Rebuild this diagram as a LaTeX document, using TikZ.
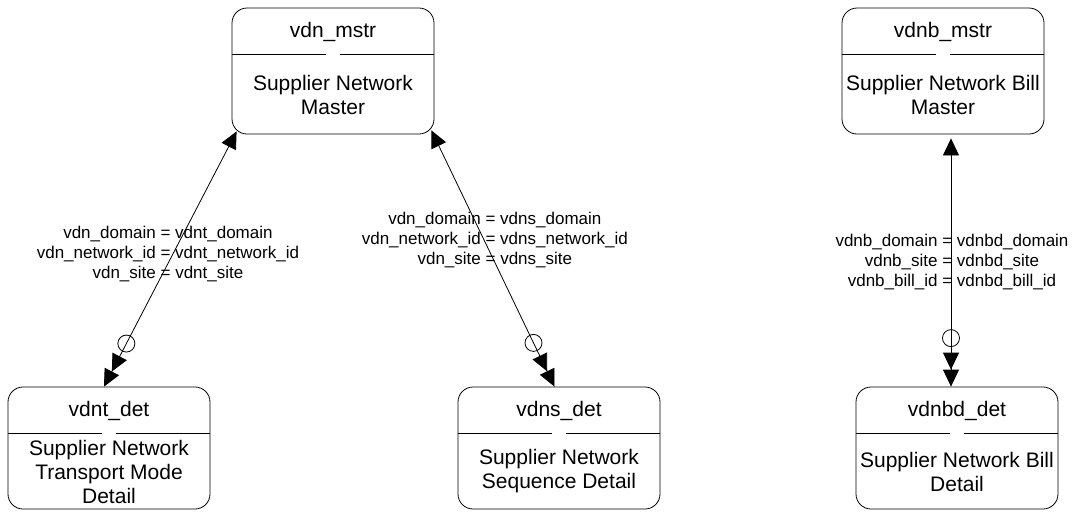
\documentclass[tikz,border=0pt]{standalone}
\usepackage{fontspec}
\setmainfont{Liberation Sans}
\usepackage{tikz}
\usetikzlibrary{arrows.meta,positioning,calc}

\begin{document}
\begin{tikzpicture}[
    x=1pt, y=-1pt,
    ent/.style={draw, rounded corners=15pt, minimum width=202pt, inner sep=0pt, line width=0.8pt},
    mst/.style={ent, minimum height=126pt},
    det/.style={ent, minimum height=122pt},
    ttl/.style={inner sep=0pt, font=\fontsize{21}{24}\selectfont},
    txt/.style={inner sep=0pt, align=center, font=\fontsize{21}{24}\selectfont},
    lbl/.style={inner sep=0pt, align=center, font=\fontsize{17}{20}\selectfont},
    fk/.style={{Triangle[length=17pt,width=16pt]}-{Triangle[length=17pt,width=16pt]Triangle[length=17pt,width=16pt]}, line width=0.8pt}
]
\useasboundingbox (0,0) rectangle (1074,512);

% master tables
\node[mst] (vdn) at (333,71) {};
\node[ttl] (vdnname) at (333,31.5) {vdn\_mstr};
\node[txt] (vdnbody) at (333,94.5) {Supplier Network\\Master};
\draw[line width=0.8pt] ([yshift=-47pt]vdn.north west) -- ([xshift=-7pt,yshift=-47pt]vdn.north);
\draw[line width=0.8pt] ([xshift=7pt,yshift=-47pt]vdn.north) -- ([yshift=-47pt]vdn.north east);

\node[mst] (vdnb) at (943,71) {};
\node[ttl] (vdnbname) at (943,31.5) {vdnb\_mstr};
\node[txt] (vdnbbody) at (943,94.5) {Supplier Network Bill\\Master};
\draw[line width=0.8pt] ([yshift=-47pt]vdnb.north west) -- ([xshift=-7pt,yshift=-47pt]vdnb.north);
\draw[line width=0.8pt] ([xshift=7pt,yshift=-47pt]vdnb.north) -- ([yshift=-47pt]vdnb.north east);

% detail tables
\node[det] (vdnt) at (109,448) {};
\node[ttl] (vdntname) at (109,410.5) {vdnt\_det};
\node[txt] (vdntbody) at (109,471.5) {Supplier Network\\Transport Mode\\Detail};
\draw[line width=0.8pt] ([yshift=-47pt]vdnt.north west) -- ([xshift=-7pt,yshift=-47pt]vdnt.north);
\draw[line width=0.8pt] ([xshift=7pt,yshift=-47pt]vdnt.north) -- ([yshift=-47pt]vdnt.north east);

\node[det] (vdns) at (559,448) {};
\node[ttl] (vdnsname) at (559,410.5) {vdns\_det};
\node[txt] (vdnsbody) at (559,471.5) {Supplier Network\\Sequence Detail};
\draw[line width=0.8pt] ([yshift=-47pt]vdns.north west) -- ([xshift=-7pt,yshift=-47pt]vdns.north);
\draw[line width=0.8pt] ([xshift=7pt,yshift=-47pt]vdns.north) -- ([yshift=-47pt]vdns.north east);

\node[det] (vdnbd) at (957,448) {};
\node[ttl] (vdnbdname) at (957,410.5) {vdnbd\_det};
\node[txt] (vdnbdbody) at (957,471.5) {Supplier Network Bill\\Detail};
\draw[line width=0.8pt] ([yshift=-47pt]vdnbd.north west) -- ([xshift=-7pt,yshift=-47pt]vdnbd.north);
\draw[line width=0.8pt] ([xshift=7pt,yshift=-47pt]vdnbd.north) -- ([yshift=-47pt]vdnbd.north east);

% relations
\coordinate (r1a) at ([xshift=5pt,yshift=3pt]vdn.south west);
\coordinate (r1b) at ([xshift=-5pt]vdnt.north);
\coordinate (r2a) at ([xshift=-3pt,yshift=4pt]vdn.south east);
\coordinate (r2b) at ([xshift=-4.5pt]vdns.north);
\coordinate (r3a) at ([xshift=8pt,yshift=-4pt]vdnb.south);
\coordinate (r3b) at ([xshift=-6pt]vdnbd.north);

\draw[fk] (r1a) -- (r1b) node[lbl, pos=0.48, xshift=-5pt] (r1lbl)
    {vdn\_domain = vdnt\_domain\\vdn\_network\_id = vdnt\_network\_id\\vdn\_site = vdnt\_site};
\draw[fk] (r2a) -- (r2b) node[lbl, pos=0.426, xshift=11pt] (r2lbl)
    {vdn\_domain = vdns\_domain\\vdn\_network\_id = vdns\_network\_id\\vdn\_site = vdns\_site};
\draw[fk] (r3a) -- (r3b) node[lbl, pos=0.5, xshift=1pt] (r3lbl)
    {vdnb\_domain = vdnbd\_domain\\vdnb\_site = vdnbd\_site\\vdnb\_bill\_id = vdnbd\_bill\_id};

\draw[line width=0.8pt] ($(r1b)!48.5pt!(r1a)$) circle[radius=8.5pt];
\draw[line width=0.8pt] ($(r2b)!48.5pt!(r2a)$) circle[radius=8.5pt];
\draw[line width=0.8pt] ($(r3b)!48.5pt!(r3a)$) circle[radius=8.5pt];
\end{tikzpicture}
\end{document}
